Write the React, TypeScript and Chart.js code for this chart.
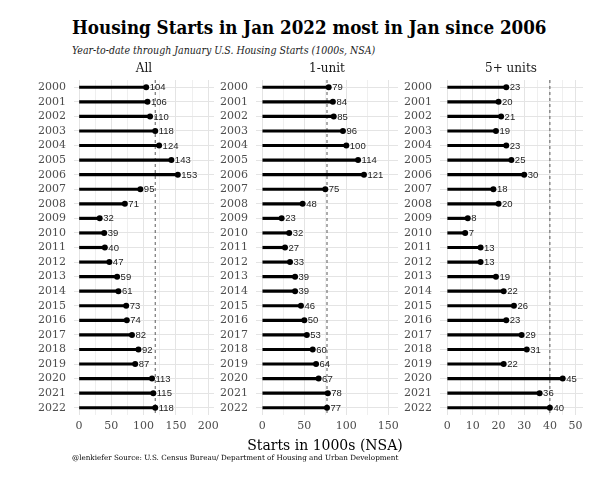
import React, { useEffect, useRef } from "react";
import { Chart, registerables } from "chart.js";

Chart.register(...registerables);

const years = ["2000","2001","2002","2003","2004","2005","2006","2007","2008","2009","2010","2011","2012","2013","2014","2015","2016","2017","2018","2019","2020","2021","2022"];
const allUnits = [104,106,110,118,124,143,153,95,71,32,39,40,47,59,61,73,74,82,92,87,113,115,118];
const oneUnit = [79,84,85,96,100,114,121,75,48,23,32,27,33,39,39,46,50,53,60,64,67,78,77];
const fivePlus = [23,20,21,19,23,25,30,18,20,8,7,13,13,19,22,26,23,29,31,22,45,36,40];
const panelTitles = ["All", "1-unit", "5+ units"];
const axisMins = [-7.75, -7.5, -2.8];
const axisMaxs = [209, 161.5, 52.9];
const minorSteps = [25, 25, 5];
const majorSteps = [50, 50, 10];

const TITLE = "Housing Starts in Jan 2022 most in Jan since 2006";
const SUBTITLE = "Year-to-date through January U.S. Housing Starts (1000s, NSA)";
const XTITLE = "Starts in 1000s (NSA)";
const CAPTION = "@lenkiefer Source: U.S. Census Bureau/ Department of Housing and Urban Development";

const panelLefts = [74, 256, 439.5];
const panelWidths = [140, 142, 143];
const Y_AXIS_W = 60;
const RIGHT_PAD = 22;
const CANVAS_TOP = 60;
const CANVAS_H = 385;

function Panel({ idx, values }: { idx: number; values: number[] }) {
  const ref = useRef<HTMLCanvasElement | null>(null);
  useEffect(() => {
    if (!ref.current) return;
    const major = majorSteps[idx];
    const refVal = values[values.length - 1];
    const refLine = {
      id: "refLine",
      beforeDatasetsDraw(chart: any) {
        const { ctx, chartArea } = chart;
        const x = chart.scales.x.getPixelForValue(refVal);
        ctx.save();
        ctx.strokeStyle = "#5a5a5a";
        ctx.lineWidth = 1;
        ctx.setLineDash([3, 3]);
        ctx.beginPath();
        ctx.moveTo(x, chartArea.top);
        ctx.lineTo(x, chartArea.bottom);
        ctx.stroke();
        ctx.restore();
      },
    };
    const labels = {
      id: "valueLabels",
      afterDatasetsDraw(chart: any) {
        const { ctx } = chart;
        const meta = chart.getDatasetMeta(1);
        ctx.save();
        ctx.font = "9.5px 'Liberation Sans', Arial, sans-serif";
        ctx.fillStyle = "#222";
        ctx.textAlign = "left";
        ctx.textBaseline = "middle";
        meta.data.forEach((pt: any, i: number) => {
          ctx.fillText(String(values[i]), pt.x + 3.5, pt.y + 0.5);
        });
        ctx.restore();
      },
    };
    const chart = new Chart(ref.current, {
      type: "bar",
      data: {
        labels: years,
        datasets: [
          {
            type: "bar",
            data: values,
            backgroundColor: "#000",
            barThickness: 2.5,
          } as any,
          {
            type: "line",
            data: values,
            showLine: false,
            pointRadius: 3,
            pointBackgroundColor: "#000",
            pointBorderWidth: 0,
            borderColor: "#000",
          } as any,
        ],
      },
      options: {
        indexAxis: "y",
        animation: false,
        responsive: false,
        maintainAspectRatio: false,
        layout: { padding: { top: 20, right: RIGHT_PAD, left: 0, bottom: 0 } },
        plugins: { legend: { display: false }, tooltip: { enabled: false }, title: { display: false } },
        scales: {
          x: {
            type: "linear",
            min: axisMins[idx],
            max: axisMaxs[idx],
            border: { display: false },
            afterFit: (s: any) => { s.height = 30; },
            ticks: {
              stepSize: minorSteps[idx],
              includeBounds: false,
              autoSkip: false,
              maxRotation: 0,
              padding: 5,
              color: "#4d4d4d",
              font: { family: "'DejaVu Serif', serif", size: 11 },
              callback: (v: any) => (Math.abs(v % major) < 1e-6 ? String(v) : ""),
            },
            grid: {
              drawTicks: false,
              color: (c: any) => (c.tick && Math.abs(c.tick.value % major) < 1e-6 ? "#e4e4e4" : "#efefef"),
              lineWidth: 1,
            },
          },
          y: {
            type: "category",
            offset: true,
            border: { display: false },
            afterFit: (s: any) => { s.width = Y_AXIS_W; },
            ticks: {
              padding: 8,
              color: "#4d4d4d",
              font: { family: "'DejaVu Serif', serif", size: 11 },
              autoSkip: false,
            },
            grid: { offset: false, drawTicks: false, color: "#e4e4e4", lineWidth: 1 },
          },
        },
      } as any,
      plugins: [refLine, labels],
    });
    return () => chart.destroy();
  }, [idx, values]);
  const left = panelLefts[idx] - Y_AXIS_W;
  const width = Y_AXIS_W + panelWidths[idx] + RIGHT_PAD;
  return (
    <>
      <canvas
        ref={ref}
        width={width}
        height={CANVAS_H}
        style={{ position: "absolute", left, top: CANVAS_TOP, width, height: CANVAS_H }}
      />
      <div
        style={{
          position: "absolute",
          left: panelLefts[idx],
          width: panelWidths[idx],
          top: 60,
          height: 16,
          lineHeight: "16px",
          textAlign: "center",
          fontFamily: "'DejaVu Serif', serif",
          fontSize: 12,
          color: "#1a1a1a",
        }}
      >
        {panelTitles[idx]}
      </div>
    </>
  );
}

export default function App() {
  const series = [allUnits, oneUnit, fivePlus];
  return (
    <div style={{ position: "absolute", left: 0, top: 0, width: 600, height: 480, background: "#fff", overflow: "hidden" }}>
      <div
        style={{
          position: "absolute",
          left: 72,
          top: 16,
          height: 24,
          lineHeight: "24px",
          fontFamily: "'DejaVu Serif', serif",
          fontStretch: "condensed",
          fontWeight: "bold",
          fontSize: 18.6,
          color: "#000",
          whiteSpace: "nowrap",
        }}
      >
        {TITLE}
      </div>
      <div
        style={{
          position: "absolute",
          left: 72,
          top: 42,
          height: 16,
          lineHeight: "16px",
          fontFamily: "'DejaVu Serif', serif",
          fontStretch: "condensed",
          fontStyle: "italic",
          fontSize: 10.5,
          color: "#1a1a1a",
          whiteSpace: "nowrap",
        }}
      >
        {SUBTITLE}
      </div>
      {series.map((v, i) => (
        <Panel key={i} idx={i} values={v} />
      ))}
      <div
        style={{
          position: "absolute",
          left: 0,
          width: 650,
          top: 435,
          height: 20,
          lineHeight: "20px",
          textAlign: "center",
          fontFamily: "'DejaVu Serif', serif",
          fontSize: 14,
          color: "#000",
          whiteSpace: "nowrap",
        }}
      >
        {XTITLE}
      </div>
      <div
        style={{
          position: "absolute",
          left: 72,
          top: 452,
          height: 12,
          lineHeight: "12px",
          fontFamily: "'DejaVu Serif', serif",
          fontSize: 7.2,
          color: "#000",
          whiteSpace: "nowrap",
        }}
      >
        {CAPTION}
      </div>
    </div>
  );
}
